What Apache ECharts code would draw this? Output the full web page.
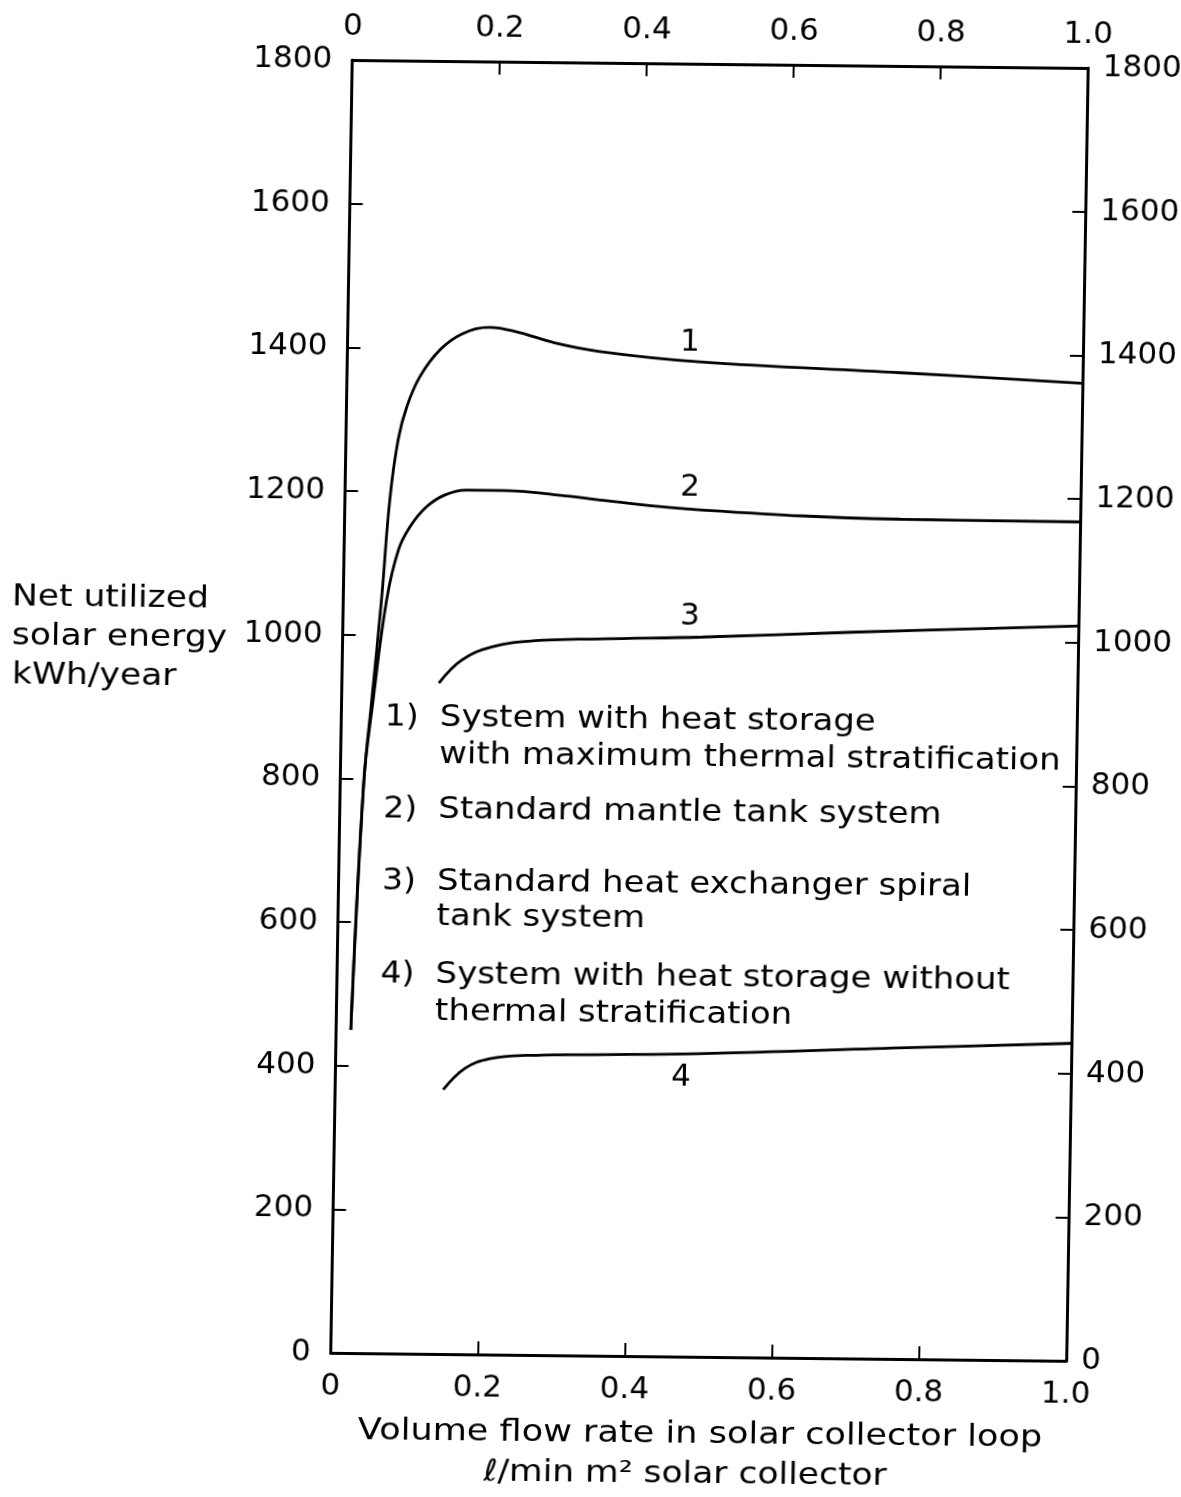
<!DOCTYPE html>
<html>
<head>
<meta charset="utf-8">
<script src="https://cdn.jsdelivr.net/npm/echarts@6/dist/echarts.min.js"></script>
<style>
  html, body { margin: 0; padding: 0; background: #fff; overflow: hidden; }
  /* the scanned figure is slightly sheared, so the whole chart gets the same shear */
  #main {
    width: 1181px; height: 1497px;
    transform-origin: 709.25px 710.5px;
    transform: matrix(1, 0.01088, -0.01663, 1, 0, 0);
  }
</style>
</head>
<body>
<div id="main"></div>
<script>
// flow rate ticks (l/min m2) and energy ticks (kWh/year)
const xTicks = [0, 0.2, 0.4, 0.6, 0.8, 1.0];
const yTicks = [0, 200, 400, 600, 800, 1000, 1200, 1400, 1600, 1800];

// curve 1: heat storage with maximum thermal stratification
const flow1 = [0.020, 0.032, 0.041, 0.052, 0.061, 0.071, 0.082, 0.099, 0.126, 0.157, 0.193, 0.234, 0.279, 0.343, 0.480, 0.752, 1.0];
const energy1 = [450, 794, 909, 1049, 1188, 1272, 1318, 1360, 1398, 1421, 1430, 1423, 1410, 1398, 1385, 1373, 1361];

// curve 2: standard mantle tank
const flow2 = [0.020, 0.032, 0.043, 0.059, 0.074, 0.089, 0.111, 0.136, 0.165, 0.215, 0.306, 0.347, 0.483, 0.755, 1.0];
const energy2 = [450, 794, 910, 1049, 1119, 1151, 1179, 1196, 1203, 1203, 1196, 1191, 1179, 1169, 1168];

// curve 3: heat exchanger spiral tank
const flow3 = [0.132, 0.162, 0.203, 0.258, 0.353, 0.489, 0.693, 1.0];
const energy3 = [934, 966, 985, 994, 998, 1002, 1011, 1023];

// curve 4: heat storage without stratification
const flow4 = [0.147, 0.176, 0.210, 0.260, 0.495, 0.767, 1.0];
const energy4 = [368, 398, 412, 417, 422, 433, 442];

const curveLabels = ['1', '2', '3', '4'];
const legendLines = [
  ['1)', 'System with heat storage'],
  ['', 'with maximum thermal stratification'],
  ['2)', 'Standard mantle tank system'],
  ['3)', 'Standard heat exchanger spiral'],
  ['', 'tank system'],
  ['4)', 'System with heat storage without'],
  ['', 'thermal stratification']
];
const yTitle = ['Net utilized', 'solar energy', 'kWh/year'];
const xTitle = ['Volume flow rate in solar collector loop', 'ℓ/min m² solar collector'];

const FONT = '"DejaVu Sans", sans-serif';

function pairs(xs, ys) {
  return xs.map((x, i) => [x, ys[i]]);
}

// page position -> position before the css shear
function unshear(px, py) {
  const dx = px - 709.25, dy = py - 710.5;
  return [709.25 + dx + 0.01663 * dy, 710.5 + dy - 0.01088 * dx];
}

let chart = echarts.init(document.getElementById('main'));

function xAxisDef(pos) {
  return {
    type: 'value', position: pos, min: 0, max: 1, interval: 0.2,
    axisLine: { show: true, onZero: false, lineStyle: { color: '#000', width: 3 } },
    axisTick: { show: true, inside: true, length: 13, lineStyle: { color: '#000', width: 2 } },
    axisLabel: {
      margin: 18, color: '#000', fontSize: 31, fontFamily: FONT,
      formatter: v => (v === 0 ? '0' : v.toFixed(1))
    },
    splitLine: { show: false }
  };
}
function yAxisDef(pos) {
  return {
    type: 'value', position: pos, min: 0, max: 1800, interval: 200,
    axisLine: { show: true, onZero: false, lineStyle: { color: '#000', width: 3 } },
    axisTick: { show: true, inside: true, length: 13, lineStyle: { color: '#000', width: 2 } },
    axisLabel: {
      margin: pos === 'left' ? 20 : 15, color: '#000', fontSize: 31, fontFamily: FONT,
      formatter: v => String(v)
    },
    splitLine: { show: false }
  };
}

function lineSeries(data) {
  return {
    type: 'line', data: data, smooth: 0.4,
    showSymbol: false, symbol: 'none', animation: false,
    lineStyle: { color: '#000', width: 2.8 }
  };
}

function textAt(px, py, str, size, align, sx) {
  const p = unshear(px, py);
  return {
    type: 'text', x: p[0], y: p[1], scaleX: sx || 1,
    style: { text: str, font: size + 'px ' + FONT, fill: '#000', align: align, verticalAlign: 'middle' }
  };
}

let graphics = [];
yTitle.forEach((t, i) => {
  graphics.push(textAt(12, 598 + i * 39, t, 30, 'left', 1.15));
});
graphics.push(textAt(700, 1435, xTitle[0], 30, 'center', 1.17));
graphics.push(textAt(685, 1475, xTitle[1], 30, 'center', 1.15));

const legendY = [718, 755, 810, 882, 917, 975, 1012];
legendLines.forEach((l, i) => {
  if (l[0]) {
    graphics.push(textAt(385 - 0.01663 * (legendY[i] - 718), legendY[i], l[0], 30, 'left', 1.1));
  }
  graphics.push(textAt(437 - 0.01663 * (legendY[i] - 718) + 3, legendY[i], l[1], 30, 'left', 1.13));
});
const curveLabelPos = [[690, 343], [690, 488], [690, 617], [681, 1078]];
curveLabels.forEach((t, i) => {
  graphics.push(textAt(curveLabelPos[i][0], curveLabelPos[i][1], t, 31, 'center', 1));
});

let chart_options = {
  backgroundColor: '#fff',
  animation: false,
  grid: { left: 341.5, right: 104, top: 64, bottom: 140 },
  xAxis: [xAxisDef('bottom'), xAxisDef('top')],
  yAxis: [yAxisDef('left'), yAxisDef('right')],
  series: [
    lineSeries(pairs(flow1, energy1)),
    lineSeries(pairs(flow2, energy2)),
    lineSeries(pairs(flow3, energy3)),
    lineSeries(pairs(flow4, energy4))
  ],
  graphic: graphics
};
chart.setOption(chart_options);
</script>
</body>
</html>
